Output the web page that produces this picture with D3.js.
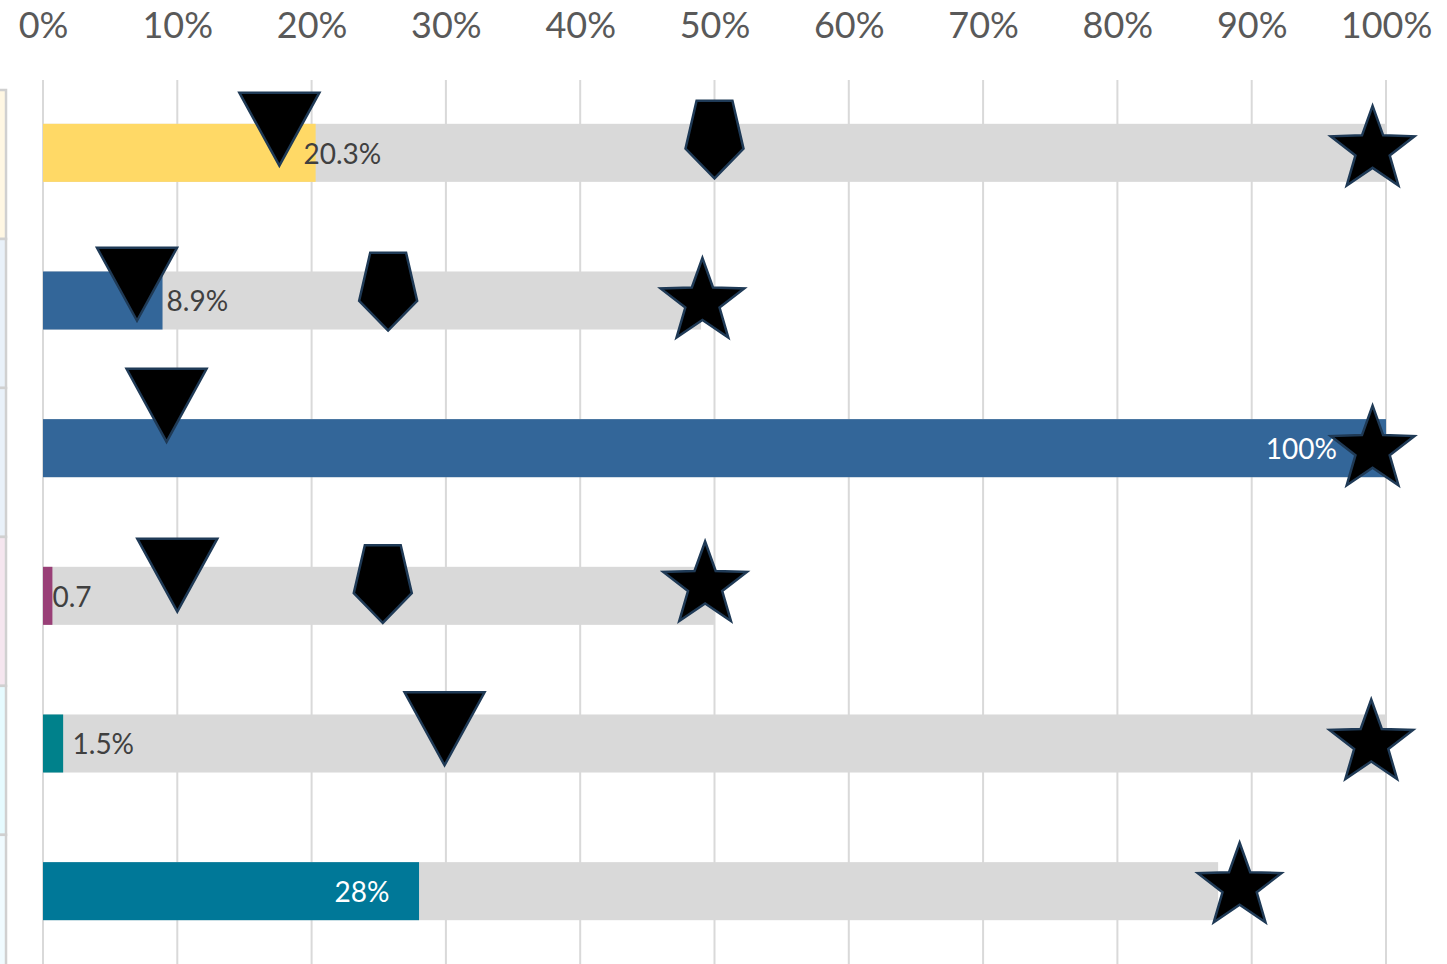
<!DOCTYPE html>
<html>
<head>
<meta charset="utf-8">
<script src="https://cdn.jsdelivr.net/npm/d3@7"></script>
<style>
  body { margin: 0; background: #fff; }
  svg { display: block; font-family: Lato, "Open Sans", sans-serif; }
</style>
</head>
<body>
<svg id="chart" width="1447" height="964"></svg>
<script>
// chart values
const rows = ["r1", "r2", "r3", "r4", "r5", "r6"];
const values = [20.3, 8.9, 100, 0.7, 1.5, 28];
const valueLabels = ["20.3%", "8.9%", "100%", "0.7", "1.5%", "28%"];
const labelInside = [false, false, true, false, false, true];
// outside labels: where the text starts; inside labels: where it ends
const labelX = [19.4, 9.2, 96.35, 0.7, 2.2, 25.8];
const maxValues = [100, 49, 100, 50, 100, 87.5];
const barColors = ["#ffd966", "#336699", "#336699", "#993f77", "#00818b", "#007898"];
const edgeColors = ["#fff7e3", "#e9f1f9", "#e9f1f9", "#f5e6ef", "#e6fbff", "#f0fbff"];

const triangleX = [17.6, 7.0, 9.2, 10.0, 29.9, null];
const triangleY = [0.34, 1.39, 2.21, 3.36, 4.40, null];
const pentagonX = [50, 25.7, null, 25.3, null, null];
const pentagonY = [0.41, 1.44, null, 3.42, null, null];
const starX = [99.0, 49.1, 99.0, 49.3, 98.9, 89.1];
const starY = [0.48, 1.51, 2.51, 3.43, 4.50, 5.47];

const tickValues = d3.range(0, 101, 10);

const svg = d3.select("#chart");
const width = 1447, height = 964;

const x = d3.scaleLinear().domain([0, 100]).range([43, 1386]);
const y = d3.scaleLinear().domain([0, rows.length]).range([79, 965]);
const step = y(1) - y(0);
const barH = step * 0.393;

// partly visible boxes on the left edge
svg.append("g").selectAll("rect")
    .data(rows)
    .enter()
    .append("rect")
    .attr("x", -20)
    .attr("y", (d, i) => y(i) + 11 + i * 1.3)
    .attr("width", 26)
    .attr("height", step + 1.3)
    .attr("fill", (d, i) => edgeColors[i])
    .attr("stroke", "#d0d0d0")
    .attr("stroke-width", 2.5);

// gridlines
svg.append("g").selectAll("line")
    .data(tickValues)
    .enter()
    .append("line")
    .attr("x1", d => x(d))
    .attr("x2", d => x(d))
    .attr("y1", 80)
    .attr("y2", height)
    .attr("stroke", "#d9d9d9")
    .attr("stroke-width", 2);

// top axis labels
const axis = svg.append("g")
    .attr("transform", "translate(0,48)")
    .call(d3.axisTop(x).tickValues(tickValues).tickFormat(d => d + "%").tickSize(0).tickPadding(10));
axis.select(".domain").remove();
axis.selectAll("text")
    .style("font-size", "36px")
    .style("fill", "#595959")
    .style("font-family", "Lato, sans-serif");

// gray background bars
svg.append("g").selectAll("rect")
    .data(maxValues)
    .enter()
    .append("rect")
    .attr("x", x(0))
    .attr("y", (d, i) => y(i + 0.5) - barH / 2)
    .attr("width", d => x(d) - x(0))
    .attr("height", barH)
    .attr("fill", "#d9d9d9");

// value bars
svg.append("g").selectAll("rect")
    .data(values)
    .enter()
    .append("rect")
    .attr("x", x(0))
    .attr("y", (d, i) => y(i + 0.5) - barH / 2)
    .attr("width", d => x(d) - x(0))
    .attr("height", barH)
    .attr("fill", (d, i) => barColors[i]);

// value labels
svg.append("g").selectAll("text")
    .data(valueLabels)
    .enter()
    .append("text")
    .attr("x", (d, i) => x(labelX[i]))
    .attr("y", (d, i) => y(i + 0.5) + 1)
    .attr("dy", "0.35em")
    .attr("text-anchor", (d, i) => labelInside[i] ? "end" : "start")
    .style("font-size", "28px")
    .style("fill", (d, i) => labelInside[i] ? "#ffffff" : "#404040")
    .text(d => d);

// marker shapes
function trianglePath(w, h) {
    return `M${-w / 2},${-h / 2}L${w / 2},${-h / 2}L0,${h / 2}Z`;
}
function pentagonPath(rx, ry) {
    const pts = [];
    for (let k = 0; k < 5; k++) {
        const a = Math.PI / 2 + k * 2 * Math.PI / 5;
        pts.push([rx * Math.cos(a), ry * Math.sin(a)]);
    }
    const top = d3.min(pts, p => p[1]), bot = d3.max(pts, p => p[1]);
    const off = (top + bot) / 2;
    return "M" + pts.map(p => [p[0], p[1] - off].join(",")).join("L") + "Z";
}
function starPath(R, r) {
    const pts = [];
    for (let k = 0; k < 10; k++) {
        const a = -Math.PI / 2 + k * Math.PI / 5;
        const rad = k % 2 === 0 ? R : r;
        pts.push([rad * Math.cos(a), rad * Math.sin(a)]);
    }
    return "M" + pts.map(p => p.join(",")).join("L") + "Z";
}

function drawMarkers(xs, ys, shape) {
    const pts = xs.map((v, i) => ({ v: v, yv: ys[i] })).filter(d => d.v != null);
    svg.append("g").selectAll("path")
        .data(pts)
        .enter()
        .append("path")
        .attr("d", shape)
        .attr("transform", d => `translate(${x(d.v)},${y(d.yv)})`)
        .attr("fill", "#000")
        .attr("stroke", "#1f3a56")
        .attr("stroke-width", 2.5)
        .attr("stroke-linejoin", "miter");
}

drawMarkers(triangleX, triangleY, trianglePath(80, 73));
drawMarkers(pentagonX, pentagonY, pentagonPath(30.5, 43));
drawMarkers(starX, starY, starPath(44, 18));
</script>
</body>
</html>
